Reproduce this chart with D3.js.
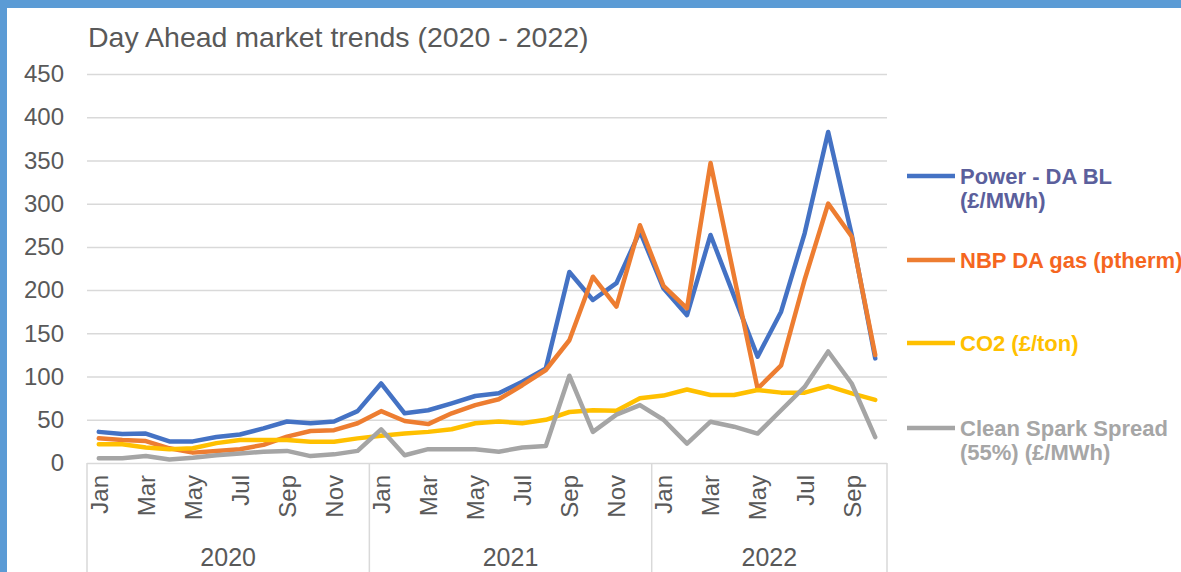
<!DOCTYPE html>
<html>
<head>
<meta charset="utf-8">
<script src="https://cdn.jsdelivr.net/npm/d3@7"></script>
<style>
  html, body { margin: 0; padding: 0; background: #fff; }
  svg { display: block; font-family: "Liberation Sans", Arial, sans-serif; }
</style>
</head>
<body>
<div id="chart"></div>
<script>
// Monthly values, Jan 2020 - Oct 2022
const monthNames = ["Jan","Feb","Mar","Apr","May","Jun","Jul","Aug","Sep","Oct","Nov","Dec"];
const years = ["2020", "2021", "2022"];
const monthsPerYear = [12, 12, 10];

const power = [36, 33.5, 34, 25, 25, 30, 33, 40, 48, 46, 48, 60,
               92, 57.5, 61, 69, 77.5, 80.6, 94, 109.5, 221, 188.6, 208, 268,
               202, 171, 263.8, 193, 123, 175, 265.7, 383, 264, 121];
const gas = [28.5, 26.6, 25.4, 17, 12, 14, 16, 21, 30.5, 37, 38, 46,
             60, 48.6, 45, 57.5, 67, 73.7, 90, 107.6, 142, 215.5, 181, 275,
             205, 179, 347, 216, 86, 113, 212, 300, 262, 125];
const co2 = [21.6, 21.6, 18, 16, 17, 23, 26.6, 26.6, 26.6, 24.7, 24.7, 28.5,
             31.6, 34, 36, 39, 46, 48, 46, 50, 59, 61, 60.5, 75,
             78, 85, 78.7, 78.7, 84.5, 81.4, 81.4, 89, 80.6, 73];
const spark = [5.4, 5.4, 8, 4, 6, 9, 11, 13, 14, 8, 10, 14,
               39, 9, 16, 16, 16, 13, 18, 19.7, 101, 36, 56, 67,
               50, 22.5, 47.8, 42, 34, 61, 88, 129, 92, 30];
const yTicks = [0, 50, 100, 150, 200, 250, 300, 350, 400, 450];

const seriesNames = ["Power - DA BL|(£/MWh)", "NBP DA gas (ptherm)", "CO2 (£/ton)", "Clean Spark Spread|(55%) (£/MWh)"];
const seriesData = [power, gas, co2, spark];
const lineColors = ["#4472c4", "#ed7d31", "#ffc000", "#a5a5a5"];
const textColors = ["#5b5f9c", "#f5661f", "#ffc000", "#a6a6a6"];

// category keys: "2020-Jan" etc.
const months = [];
years.forEach((yr, i) => {
  for (let m = 0; m < monthsPerYear[i]; m++) months.push({key: yr + "-" + monthNames[m], year: yr, label: monthNames[m], m: m});
});

const W = 1181, H = 572;
const svg = d3.select("#chart").append("svg")
  .attr("width", W).attr("height", H);

// blue frame
svg.append("rect").attr("x", 0).attr("y", 0).attr("width", W).attr("height", 8).attr("fill", "#5b9bd5");
svg.append("rect").attr("x", 0).attr("y", 0).attr("width", 7).attr("height", H).attr("fill", "#5b9bd5");

const plotL = 87, plotR = 887, plotT = 74, plotB = 463;

const x = d3.scalePoint()
  .domain(months.map(d => d.key))
  .range([plotL, plotR])
  .padding(0.5);
const step = x.step();

const y = d3.scaleLinear()
  .domain([0, 450])
  .range([plotB, plotT]);

// title
svg.append("text")
  .attr("x", 88).attr("y", 47)
  .attr("font-size", 28.5)
  .attr("fill", "#595959")
  .text("Day Ahead market trends (2020 - 2022)");

// y axis with gridlines
const yAxis = svg.append("g")
  .attr("transform", `translate(${plotL},0)`)
  .call(d3.axisLeft(y).tickValues(yTicks).tickSize(-(plotR - plotL)).tickPadding(23));
yAxis.select(".domain").remove();
yAxis.selectAll(".tick line").attr("stroke", "#d9d9d9").attr("stroke-width", 1.5);
yAxis.selectAll(".tick text")
  .attr("font-size", 24)
  .attr("fill", "#595959")
  .attr("font-family", "Liberation Sans, Arial, sans-serif");

// category axis: month labels
const xAxis = svg.append("g")
  .attr("transform", `translate(0,${plotB})`)
  .call(d3.axisBottom(x)
    .tickValues(months.filter(d => d.m % 2 === 0).map(d => d.key))
    .tickFormat(k => k.split("-")[1])
    .tickSize(0));
xAxis.select(".domain").remove();
xAxis.selectAll(".tick text")
  .attr("font-size", 24)
  .attr("fill", "#595959")
  .attr("font-family", "Liberation Sans, Arial, sans-serif")
  .attr("transform", "rotate(-90)")
  .attr("text-anchor", "end")
  .attr("x", -12)
  .attr("y", 0)
  .attr("dy", "0.35em");

// year group boxes
let idx = 0;
const bounds = [x(months[0].key) - step / 2];
years.forEach((yr, i) => {
  idx += monthsPerYear[i];
  bounds.push(x(months[idx - 1].key) + step / 2);
});
svg.selectAll(".sep")
  .data(bounds)
  .enter().append("line")
  .attr("x1", d => d).attr("x2", d => d)
  .attr("y1", plotB).attr("y2", H + 5)
  .attr("stroke", "#d9d9d9").attr("stroke-width", 1.5);
svg.selectAll(".year")
  .data(years)
  .enter().append("text")
  .attr("x", (d, i) => (bounds[i] + bounds[i + 1]) / 2)
  .attr("y", 566)
  .attr("text-anchor", "middle")
  .attr("font-size", 25)
  .attr("fill", "#595959")
  .text(d => d);

// lines
const line = d3.line()
  .x((d, i) => x(months[i].key))
  .y(d => y(d));
svg.selectAll(".series")
  .data(seriesData)
  .enter().append("path")
  .attr("d", d => line(d))
  .attr("fill", "none")
  .attr("stroke", (d, i) => lineColors[i])
  .attr("stroke-width", 4.5)
  .attr("stroke-linejoin", "round")
  .attr("stroke-linecap", "round");

// legend
const legendY = [176, 260, 343, 428];
const legend = svg.selectAll(".legend")
  .data(seriesNames)
  .enter().append("g")
  .attr("transform", (d, i) => `translate(907,${legendY[i]})`);
legend.append("line")
  .attr("x1", 0).attr("x2", 48)
  .attr("stroke", (d, i) => lineColors[i])
  .attr("stroke-width", 4.5);
legend.append("text")
  .attr("x", 53).attr("y", 8)
  .attr("font-size", 22)
  .attr("font-weight", "bold")
  .attr("fill", (d, i) => textColors[i])
  .selectAll("tspan")
  .data(d => d.split("|"))
  .enter().append("tspan")
  .attr("x", 53)
  .attr("dy", (d, i) => i === 0 ? 0 : 24)
  .text(d => d);
</script>
</body>
</html>
